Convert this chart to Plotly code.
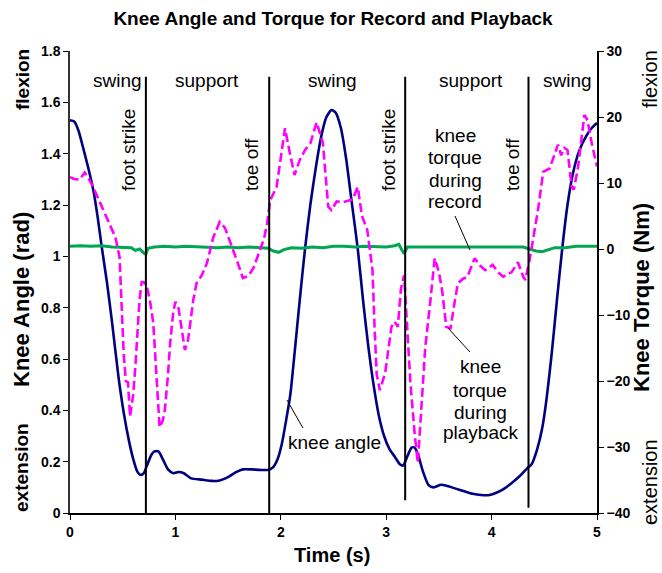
import plotly.graph_objects as go

# ---------------- data ----------------
angle_t = [0.00, 0.04, 0.08, 0.12, 0.17, 0.22, 0.26, 0.30, 0.35, 0.40, 0.46, 0.51, 0.56, 0.60,
           0.64, 0.67, 0.70, 0.73, 0.77, 0.80, 0.84, 0.88, 0.93, 0.98, 1.03, 1.08, 1.15, 1.25,
           1.35, 1.42, 1.50, 1.58, 1.64, 1.72, 1.80, 1.88, 1.93, 1.97, 2.01, 2.05, 2.09, 2.13,
           2.18, 2.23, 2.28, 2.33, 2.38, 2.43, 2.48, 2.52, 2.57, 2.62, 2.67, 2.73, 2.78, 2.83,
           2.88, 2.93, 2.98, 3.03, 3.08, 3.13, 3.16, 3.20, 3.24, 3.27, 3.30, 3.35, 3.40, 3.45,
           3.52, 3.58, 3.66, 3.74, 3.82, 3.90, 3.98, 4.05, 4.12, 4.20, 4.27, 4.34, 4.38, 4.43,
           4.48, 4.52, 4.57, 4.62, 4.67, 4.72, 4.77, 4.83, 4.90, 4.95, 5.00]
knee_angle = [1.53, 1.525, 1.49, 1.43, 1.35, 1.26, 1.16, 1.04, 0.90, 0.74, 0.53, 0.39, 0.28, 0.21,
              0.16, 0.148, 0.155, 0.185, 0.225, 0.24, 0.24, 0.21, 0.17, 0.155, 0.16, 0.155, 0.135, 0.13,
              0.125, 0.127, 0.14, 0.16, 0.17, 0.17, 0.168, 0.168, 0.18, 0.21, 0.27, 0.36, 0.46, 0.62,
              0.83, 1.03, 1.20, 1.34, 1.46, 1.54, 1.57, 1.56, 1.50, 1.38, 1.22, 1.03, 0.83, 0.65,
              0.50, 0.38, 0.30, 0.25, 0.22, 0.19, 0.185, 0.22, 0.255, 0.255, 0.23, 0.16, 0.11, 0.10,
              0.11, 0.105, 0.095, 0.085, 0.075, 0.07, 0.07, 0.08, 0.095, 0.12, 0.145, 0.175, 0.19, 0.245,
              0.33, 0.44, 0.62, 0.83, 1.03, 1.20, 1.32, 1.41, 1.47, 1.50, 1.52]

play_t = [0.00, 0.04, 0.09, 0.14, 0.18, 0.22, 0.28, 0.35, 0.40, 0.43, 0.47, 0.49, 0.51, 0.53,
          0.55, 0.57, 0.60, 0.62, 0.64, 0.66, 0.68, 0.70, 0.73, 0.76, 0.79, 0.81, 0.83, 0.85,
          0.88, 0.90, 0.93, 0.95, 0.98, 1.00, 1.03, 1.06, 1.09, 1.12, 1.15, 1.17, 1.20, 1.25,
          1.30, 1.36, 1.42, 1.47, 1.51, 1.55, 1.60, 1.64, 1.69, 1.74, 1.80, 1.84, 1.87, 1.90,
          1.96, 2.00, 2.04, 2.08, 2.13, 2.18, 2.23, 2.28, 2.34, 2.40, 2.45, 2.48, 2.53, 2.59,
          2.68, 2.73, 2.77, 2.82, 2.87, 2.89, 2.91, 2.94, 2.99, 3.05, 3.08, 3.11, 3.14, 3.17,
          3.19, 3.23, 3.27, 3.30, 3.33, 3.37, 3.42, 3.46, 3.50, 3.53, 3.57, 3.61, 3.65, 3.68,
          3.73, 3.77, 3.84, 3.89, 3.94, 4.01, 4.06, 4.11, 4.19, 4.25, 4.30, 4.32, 4.36, 4.41,
          4.44, 4.49, 4.55, 4.63, 4.66, 4.69, 4.72, 4.76, 4.78, 4.82, 4.88, 4.91, 4.95, 5.00]
torque_playback = [10.9, 10.6, 10.5, 11.6, 10.6, 9.4, 7.2, 4.8, 3.0, 1.8, -1.2, -8.0, -16.0, -20.0,
                   -20.2, -25.4, -22.0, -17.8, -12.0, -7.7, -5.0, -5.0, -5.7, -8.0, -11.2, -16.0, -21.8, -27.0,
                   -26.0, -24.4, -19.0, -14.3, -9.5, -8.0, -9.0, -12.3, -15.3, -13.8, -10.0, -7.7, -5.2, -4.0,
                   -2.1, 1.8, 4.1, 3.2, 1.5, -0.2, -2.5, -4.4, -4.1, -2.9, -0.2, 1.5, 3.9, 7.4,
                   9.4, 13.5, 18.3, 15.0, 11.2, 13.5, 15.0, 16.0, 19.2, 16.0, 6.4, 5.9, 7.2, 7.1,
                   7.5, 9.4, 5.0, 2.9, -3.2, -12.0, -19.0, -21.4, -18.8, -11.8, -11.0, -11.8, -6.0, -4.0,
                   -10.0, -20.3, -28.0, -32.4, -25.0, -15.0, -7.7, -1.4, -3.5, -6.2, -11.8, -12.0, -8.0, -5.2,
                   -4.5, -4.2, -1.4, -2.5, -3.2, -2.4, -3.5, -4.2, -3.5, -2.0, -4.2, -4.7, -1.7, 3.0,
                   5.9, 11.7, 12.2, 15.8, 14.2, 15.3, 15.0, 9.4, 9.0, 12.4, 20.3, 19.5, 16.0, 12.5]

record_t = [0.00, 0.10, 0.20, 0.30, 0.40, 0.50, 0.58, 0.62, 0.66, 0.70, 0.72, 0.74, 0.80, 0.90,
            1.00, 1.10, 1.20, 1.30, 1.40, 1.50, 1.60, 1.70, 1.80, 1.88, 1.93, 1.98, 2.03, 2.10,
            2.20, 2.30, 2.40, 2.50, 2.60, 2.70, 2.80, 2.90, 3.00, 3.08, 3.12, 3.15, 3.17, 3.20,
            3.30, 3.40, 3.50, 3.60, 3.70, 3.80, 3.90, 4.00, 4.10, 4.20, 4.30, 4.36, 4.42, 4.48,
            4.55, 4.60, 4.70, 4.80, 4.90, 5.00]
torque_record = [0.4, 0.5, 0.4, 0.5, 0.3, 0.3, 0.2, -0.2, 0.0, -0.6, -0.8, 0.1, 0.3, 0.4,
                 0.3, 0.4, 0.3, 0.3, 0.2, 0.3, 0.2, 0.3, 0.2, 0.1, -0.3, -0.5, -0.1, 0.2,
                 0.1, 0.3, 0.2, 0.4, 0.4, 0.3, 0.4, 0.3, 0.3, 0.5, 0.7, -0.2, -0.7, 0.3,
                 0.3, 0.2, 0.3, 0.2, 0.3, 0.2, 0.3, 0.2, 0.3, 0.2, 0.3, 0.0, -0.3, -0.4,
                 -0.1, 0.2, 0.2, 0.4, 0.4, 0.4]

event_t = [0.72, 1.89, 3.18, 4.35]
event_names = ["foot strike", "toe off", "foot strike", "toe off"]
phase_names = ["swing", "support", "swing", "support", "swing"]
phase_x = [0.455, 1.30, 2.49, 3.80, 4.72]

FONT = "Arial, Liberation Sans, sans-serif"

fig = go.Figure()
fig.add_trace(go.Scatter(x=angle_t, y=knee_angle, mode="lines", yaxis="y",
                         line=dict(color="#000080", width=2.6, shape="spline", smoothing=0.6),
                         showlegend=False))
fig.add_trace(go.Scatter(x=record_t, y=torque_record, mode="lines", yaxis="y2",
                         line=dict(color="#00A651", width=3),
                         showlegend=False))
fig.add_trace(go.Scatter(x=play_t, y=torque_playback, mode="lines", yaxis="y2",
                         line=dict(color="#FF00FF", width=2.6, dash="9px,4px"),
                         showlegend=False))

# vertical event lines (left-axis units)
ev_bottom = [0.0, 0.0, 0.05, 0.02]
for t, b in zip(event_t, ev_bottom):
    fig.add_shape(type="line", xref="x", yref="y", x0=t, x1=t, y0=b, y1=1.70,
                  line=dict(color="black", width=2))

ann = []
for name, x in zip(phase_names, phase_x):
    ann.append(dict(x=x, y=1.687, xref="x", yref="y", text=name, showarrow=False,
                    font=dict(size=19, color="black", family=FONT)))
ev_label_x = [0.55, 1.727, 3.017, 4.203]
ev_label_y = [1.414, 1.356, 1.414, 1.356]
for name, x, y in zip(event_names, ev_label_x, ev_label_y):
    ann.append(dict(x=x, y=y, xref="x", yref="y", text=name, showarrow=False, textangle=-90,
                    font=dict(size=19, color="black", family=FONT)))

rec_lines = ["knee", "torque", "during", "record"]
rec_y = [1.4725, 1.387, 1.297, 1.212]
for s, y in zip(rec_lines, rec_y):
    ann.append(dict(x=3.653, y=y, xref="x", yref="y", text=s, showarrow=False,
                    font=dict(size=19, color="black", family=FONT)))
pb_lines = ["knee", "torque", "during", "playback"]
pb_y = [0.569, 0.479, 0.393, 0.312]
for s, y in zip(pb_lines, pb_y):
    ann.append(dict(x=3.89, y=y, xref="x", yref="y", text=s, showarrow=False,
                    font=dict(size=19, color="black", family=FONT)))
ann.append(dict(x=2.514, y=0.273, xref="x", yref="y", text="knee angle", showarrow=False,
                font=dict(size=19, color="black", family=FONT)))

# leader lines
leaders = [((2.059, 0.44), (2.21, 0.331)),
           ((3.653, 1.157), (3.795, 1.0245)),
           ((3.586, 0.7207), (3.795, 0.627))]
for (xa, ya), (xb, yb) in leaders:
    fig.add_shape(type="line", xref="x", yref="y", x0=xa, y0=ya, x1=xb, y1=yb,
                  line=dict(color="black", width=1))

# axis titles and side labels (x in paper units; plot area is 70..597 px)
def px_x(p):
    return (p - 70) / 527.0

def px_y(p):
    return (513 - p) / 462.0

side = [
    ("Knee Angle (rad)", px_x(21), px_y(300), True, 22),
    ("flexion", px_x(22), px_y(80), True, 19),
    ("extension", px_x(21), px_y(468), True, 19),
    ("Knee Torque (Nm)", px_x(641), px_y(298), True, 22),
    ("flexion", px_x(650), px_y(79), False, 20),
    ("extension", px_x(650), px_y(482), False, 20),
]
for txt, x, y, bold, sz in side:
    ann.append(dict(x=x, y=y, xref="paper", yref="paper", text=f"<b>{txt}</b>" if bold else txt,
                    showarrow=False, textangle=-90, xanchor="center", yanchor="middle",
                    font=dict(size=sz, color="black", family=FONT)))
ann.append(dict(x=px_x(332), y=px_y(555), xref="paper", yref="paper", text="<b>Time (s)</b>",
                showarrow=False, xanchor="center", yanchor="middle",
                font=dict(size=20, color="black", family=FONT)))

fig.update_layout(
    width=662, height=573,
    margin=dict(l=70, r=65, t=51, b=60),
    paper_bgcolor="white", plot_bgcolor="white",
    font=dict(family=FONT, color="black"),
    title=dict(text="<b>Knee Angle and Torque for Record and Playback</b>", x=333 / 662, xref="container",
               y=1 - 18 / 573, yref="container", xanchor="center", yanchor="middle",
               font=dict(size=19, color="black", family=FONT)),
    xaxis=dict(range=[0, 5], dtick=1, tick0=0, showgrid=False, zeroline=False, showline=True,
               linecolor="black", linewidth=1.5, ticks="outside", ticklen=5, tickcolor="black",
               tickfont=dict(size=14, family=FONT, color="black", weight="bold")),
    yaxis=dict(range=[0, 1.8], dtick=0.2, tick0=0, showgrid=False, zeroline=False, showline=True,
               linecolor="#333333", linewidth=1.5, ticks="outside", ticklen=5, tickcolor="black",
               tickfont=dict(size=14, family=FONT, color="black", weight="bold")),
    yaxis2=dict(range=[-40, 30], dtick=10, tick0=0, overlaying="y", side="right", showgrid=False,
                zeroline=False, showline=True, linecolor="black", linewidth=1.5, ticks="outside",
                ticklen=5, tickcolor="black",
                tickfont=dict(size=14, family=FONT, color="black", weight="bold")),
    annotations=ann,
    showlegend=False,
)

fig.write_html("out.html", config={"displayModeBar": False},
               post_script="document.body.style.margin='0';document.body.style.padding='0';")
